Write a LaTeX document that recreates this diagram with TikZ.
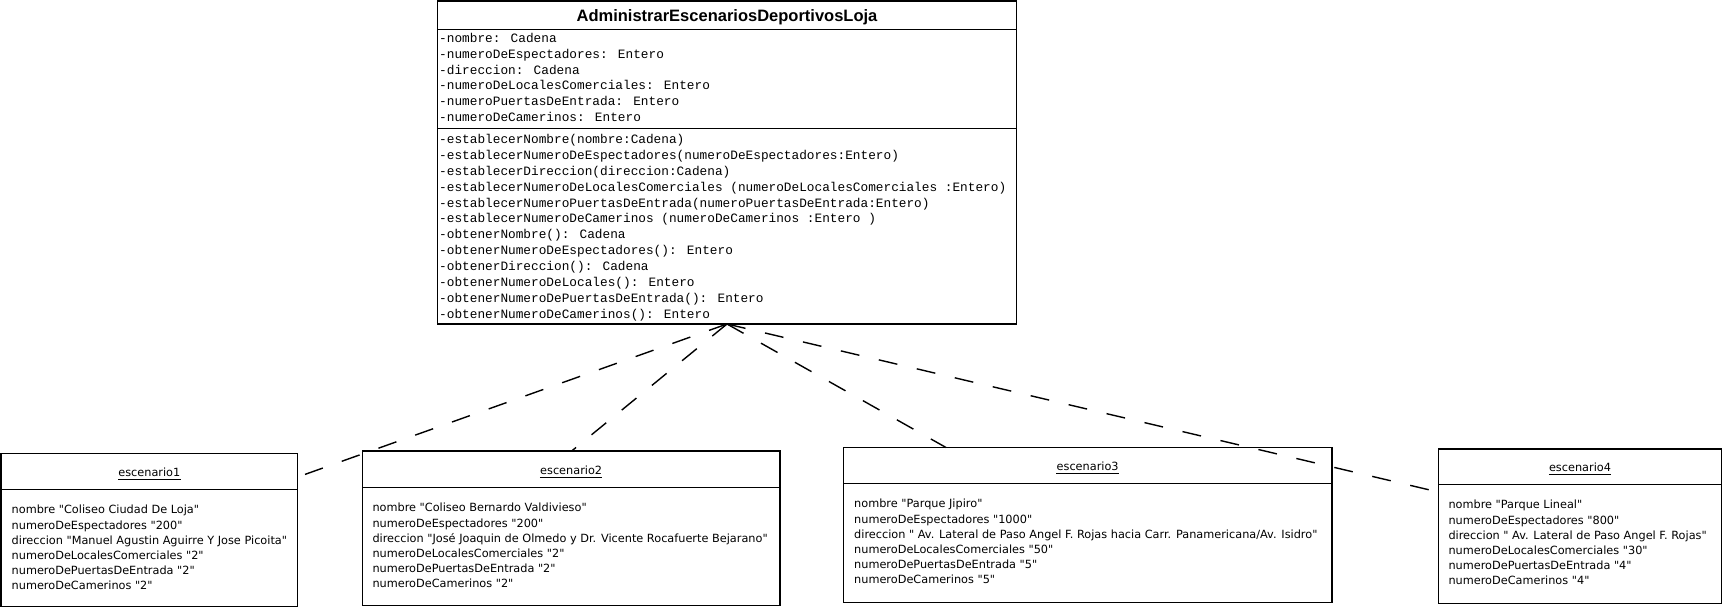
\documentclass[tikz,border=0pt]{standalone}
\usepackage{fontspec}
\setmainfont{DejaVu Sans}
\newfontfamily\objfont{DejaVu Sans}
\newfontfamily\monofont{Liberation Mono}
\newfontfamily\headfont{Liberation Sans}
\tikzset{
 umlbox/.style={draw, line width=1.4pt, inner sep=0pt, outer sep=0pt},
 sepline/.style={line width=1.4pt},
 realiz/.style={line width=1.4pt, dash pattern=on 19pt off 20pt},
 monotext/.style={font=\monofont\fontsize{12.77}{15}\selectfont, anchor=base west, inner sep=0pt},
 objtext/.style={font=\objfont\fontsize{11.3}{14}\selectfont, anchor=base west, inner sep=0pt},
 objtitle/.style={font=\objfont\fontsize{11.3}{14}\selectfont, anchor=base, inner sep=0pt},
 classtitle/.style={font=\headfont\bfseries\fontsize{16.5}{18}\selectfont, anchor=base, inner sep=0pt},
 uline/.style={line width=0.9pt},
}
\begin{document}
\begin{tikzpicture}[x=1pt,y=-1pt]
\useasboundingbox (0,0) rectangle (1724,609);
% main class
\node[umlbox, minimum width=579pt, minimum height=323pt] (main) at (727,162.5) {};
\draw[sepline] (main.west |- 0,29.5) -- (main.east |- 0,29.5);
\draw[sepline] (main.west |- 0,128.5) -- (main.east |- 0,128.5);
\node[classtitle] (mtitle) at (727,21.5) {AdministrarEscenariosDeportivosLoja};
\foreach \t [count=\i] in {
 {-nombre: Cadena},
 {-numeroDeEspectadores: Entero},
 {-direccion: Cadena},
 {-numeroDeLocalesComerciales: Entero},
 {-numeroPuertasDeEntrada: Entero},
 {-numeroDeCamerinos: Entero}}
 \node[monotext] (att\i) at (439,{42.5+15.8*(\i-1)}) {\t};
\foreach \t [count=\i] in {
 {-establecerNombre(nombre:Cadena)},
 {-establecerNumeroDeEspectadores(numeroDeEspectadores:Entero)},
 {-establecerDireccion(direccion:Cadena)},
 {-establecerNumeroDeLocalesComerciales (numeroDeLocalesComerciales :Entero)},
 {-establecerNumeroPuertasDeEntrada(numeroPuertasDeEntrada:Entero)},
 {-establecerNumeroDeCamerinos (numeroDeCamerinos :Entero )},
 {-obtenerNombre(): Cadena},
 {-obtenerNumeroDeEspectadores(): Entero},
 {-obtenerDireccion(): Cadena},
 {-obtenerNumeroDeLocales(): Entero},
 {-obtenerNumeroDePuertasDeEntrada(): Entero},
 {-obtenerNumeroDeCamerinos(): Entero}}
 \node[monotext] (op\i) at (439,{143.5+15.9*(\i-1)}) {\t};

% escenario1
\node[umlbox, minimum width=296.7pt, minimum height=153.4pt] (e1) at (149.35,530) {};
\draw[sepline] (e1.west |- 0,489.3) -- (e1.east |- 0,489.3);
\node[objtitle] (t1) at (149.35,476.8) {escenario1};
\draw[uline] ([yshift=-3pt]t1.base west) -- ([yshift=-3pt]t1.base east);
\foreach \t [count=\i] in {
 {nombre "Coliseo Ciudad De Loja"},
 {numeroDeEspectadores "200"},
 {direccion "Manuel Agustin Aguirre Y Jose Picoita"},
 {numeroDeLocalesComerciales "2"},
 {numeroDePuertasDeEntrada "2"},
 {numeroDeCamerinos "2"}}
 \node[objtext] (b1\i) at (11.5,{489.3+24.5+15.2*(\i-1)}) {\t};

% escenario2
\node[umlbox, minimum width=417.7pt, minimum height=154.7pt] (e2) at (571.15,528.35) {};
\draw[sepline] (e2.west |- 0,487.3) -- (e2.east |- 0,487.3);
\node[objtitle] (t2) at (571.15,474.8) {escenario2};
\draw[uline] ([yshift=-3pt]t2.base west) -- ([yshift=-3pt]t2.base east);
\foreach \t [count=\i] in {
 {nombre "Coliseo Bernardo Valdivieso"},
 {numeroDeEspectadores "200"},
 {direccion "José Joaquin de Olmedo y Dr. Vicente Rocafuerte Bejarano"},
 {numeroDeLocalesComerciales "2"},
 {numeroDePuertasDeEntrada "2"},
 {numeroDeCamerinos "2"}}
 \node[objtext] (b2\i) at (372.3,{487.3+24.5+15.2*(\i-1)}) {\t};

% escenario3
\node[umlbox, minimum width=488.7pt, minimum height=154.8pt] (e3) at (1087.65,524.9) {};
\draw[sepline] (e3.west |- 0,483.3) -- (e3.east |- 0,483.3);
\node[objtitle] (t3) at (1087.65,470.8) {escenario3};
\draw[uline] ([yshift=-3pt]t3.base west) -- ([yshift=-3pt]t3.base east);
\foreach \t [count=\i] in {
 {nombre "Parque Jipiro"},
 {numeroDeEspectadores "1000"},
 {direccion " Av. Lateral de Paso Angel F. Rojas hacia Carr. Panamericana/Av. Isidro"},
 {numeroDeLocalesComerciales "50"},
 {numeroDePuertasDeEntrada "5"},
 {numeroDeCamerinos "5"}}
 \node[objtext] (b3\i) at (854,{483.3+24.5+15.2*(\i-1)}) {\t};

% escenario4
\node[umlbox, minimum width=283.4pt, minimum height=154.3pt] (e4) at (1580,526.15) {};
\draw[sepline] (e4.west |- 0,484.3) -- (e4.east |- 0,484.3);
\node[objtitle] (t4) at (1580,471.8) {escenario4};
\draw[uline] ([yshift=-3pt]t4.base west) -- ([yshift=-3pt]t4.base east);
\foreach \t [count=\i] in {
 {nombre "Parque Lineal"},
 {numeroDeEspectadores "800"},
 {direccion " Av. Lateral de Paso Angel F. Rojas"},
 {numeroDeLocalesComerciales "30"},
 {numeroDePuertasDeEntrada "4"},
 {numeroDeCamerinos "4"}}
 \node[objtext] (b4\i) at (1448.3,{484.3+24.5+15.2*(\i-1)}) {\t};

% realization connectors
\draw[realiz] (main.south) -- (e1.east |- 0,477);
\draw[realiz] (main.south) -- (e2.north -| 571.7,0);
\draw[realiz] (main.south) -- (e3.north -| 946,0);
\draw[realiz] (main.south) -- (e4.west |- 0,492);
\end{tikzpicture}
\end{document}
